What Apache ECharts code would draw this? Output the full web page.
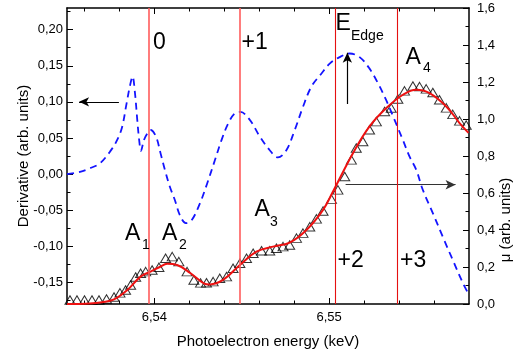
<!DOCTYPE html>
<html>
<head>
<meta charset="utf-8">
<script src="https://cdn.jsdelivr.net/npm/echarts@6/dist/echarts.min.js"></script>
<style>
html,body{margin:0;padding:0;background:#fff;}
#chart{width:514px;height:356px;}
</style>
</head>
<body>
<div id="chart"></div>
<script>
// Derivative curve (left axis)
const derivEnergy = [6.53500,6.53574,6.53631,6.53689,6.53746,6.53780,6.53813,6.53841,6.53860,6.53875,6.53889,6.53902,6.53913,6.53923,6.53940,6.53959,6.53978,6.54009,6.54035,6.54060,6.54089,6.54117,6.54146,6.54180,6.54213,6.54260,6.54302,6.54346,6.54384,6.54422,6.54460,6.54493,6.54546,6.54603,6.54660,6.54707,6.54755,6.54803,6.54850,6.54898,6.54955,6.55003,6.55060,6.55117,6.55174,6.55231,6.55279,6.55327,6.55374,6.55422,6.55460,6.55498,6.55536,6.55593,6.55650,6.55707,6.55765,6.55797];
const derivValues = [0.000,0.003,0.008,0.015,0.031,0.044,0.063,0.098,0.122,0.135,0.112,0.075,0.047,0.032,0.047,0.056,0.061,0.052,0.029,0.006,-0.018,-0.036,-0.057,-0.068,-0.064,-0.041,-0.013,0.019,0.047,0.070,0.084,0.086,0.075,0.052,0.033,0.023,0.033,0.061,0.093,0.121,0.139,0.153,0.162,0.167,0.162,0.146,0.126,0.102,0.075,0.047,0.024,0.006,-0.022,-0.054,-0.087,-0.119,-0.151,-0.166];

// Measured absorption mu (right axis, triangles)
const muEnergy = [6.53517,6.53557,6.53600,6.53643,6.53683,6.53726,6.53769,6.53803,6.53835,6.53864,6.53893,6.53921,6.53950,6.53987,6.54026,6.54064,6.54102,6.54140,6.54187,6.54226,6.54264,6.54298,6.54336,6.54374,6.54413,6.54450,6.54489,6.54527,6.54565,6.54613,6.54660,6.54698,6.54736,6.54774,6.54813,6.54850,6.54889,6.54927,6.54965,6.55013,6.55050,6.55089,6.55127,6.55155,6.55193,6.55231,6.55270,6.55317,6.55355,6.55393,6.55431,6.55479,6.55517,6.55555,6.55593,6.55631,6.55670,6.55707,6.55746,6.55784];
const muValues = [0.022,0.022,0.022,0.022,0.022,0.027,0.038,0.060,0.076,0.103,0.146,0.166,0.175,0.184,0.199,0.247,0.256,0.229,0.175,0.130,0.114,0.115,0.121,0.139,0.148,0.193,0.220,0.247,0.274,0.288,0.288,0.301,0.310,0.319,0.356,0.383,0.418,0.460,0.503,0.567,0.617,0.689,0.779,0.843,0.878,0.942,0.986,1.041,1.059,1.108,1.152,1.178,1.175,1.163,1.143,1.104,1.060,1.025,0.990,0.967];

// Fit curve (right axis, red)
const fitEnergy = [6.53500,6.53631,6.53700,6.53769,6.53845,6.53921,6.53978,6.54031,6.54073,6.54130,6.54207,6.54283,6.54317,6.54393,6.54489,6.54584,6.54679,6.54774,6.54870,6.54965,6.55022,6.55136,6.55231,6.55327,6.55422,6.55498,6.55574,6.55670,6.55746,6.55797];
const fitValues = [0.000,0.003,0.010,0.025,0.076,0.148,0.175,0.200,0.217,0.211,0.166,0.112,0.106,0.130,0.211,0.283,0.310,0.332,0.400,0.509,0.608,0.815,0.960,1.059,1.131,1.158,1.140,1.068,0.978,0.925];

// Oxidation-state edge positions
const edgeEnergies = [6.53967, 6.54489, 6.55033, 6.55387];
const edgeLabels = ['0', '+1', '+2', '+3'];

// Arrows (energy, derivative) start -> end
const arrowStarts = [[6.53797, 0.10], [6.55094, -0.0148], [6.55104, 0.097]];
const arrowEnds = [[6.53569, 0.10], [6.55723, -0.0148], [6.55104, 0.168]];

// Tick values
const xMajorTicks = [6.54, 6.55];
const xMinorTicks = [6.536, 6.538, 6.542, 6.544, 6.546, 6.548, 6.552, 6.554, 6.556];
const leftMajorTicks = [-0.15, -0.10, -0.05, 0.00, 0.05, 0.10, 0.15, 0.20];
const leftMinorTicks = [-0.175, -0.125, -0.075, -0.025, 0.025, 0.075, 0.125, 0.175, 0.225];

const FONT = '"Liberation Sans", Arial, sans-serif';
const comma = d => v => v.toFixed(d).replace('.', ',');

const chart = echarts.init(document.getElementById('chart'), null, {renderer: 'canvas'});

const xMin = 6.535, xMax = 6.558;
const yMin = -0.18, yMax = 0.23;

const axisLine = {show: true, onZero: false, lineStyle: {color: '#000', width: 1.5}};
const noLine = {show: false, onZero: false};

const option = {
  animation: false,
  backgroundColor: '#fff',
  grid: {left: 67, right: 45, top: 8, bottom: 52, containLabel: false},
  xAxis: [
    {type: 'value', position: 'bottom', min: xMin, max: xMax,
     axisLine: axisLine,
     axisTick: {show: true, inside: true, length: 6, customValues: xMajorTicks, lineStyle: {color: '#000', width: 1}},
     axisLabel: {show: true, customValues: xMajorTicks, formatter: comma(2), margin: 7, color: '#000', fontSize: 13, fontFamily: FONT},
     splitLine: {show: false}},
    {type: 'value', position: 'bottom', min: xMin, max: xMax,
     axisLine: noLine,
     axisTick: {show: true, inside: true, length: 3.5, customValues: xMinorTicks, lineStyle: {color: '#000', width: 1}},
     axisLabel: {show: false}, splitLine: {show: false}},
    {type: 'value', position: 'top', min: xMin, max: xMax,
     axisLine: axisLine,
     axisTick: {show: true, inside: true, length: 6, customValues: xMajorTicks, lineStyle: {color: '#000', width: 1}},
     axisLabel: {show: false}, splitLine: {show: false}},
    {type: 'value', position: 'top', min: xMin, max: xMax,
     axisLine: noLine,
     axisTick: {show: true, inside: true, length: 3.5, customValues: xMinorTicks, lineStyle: {color: '#000', width: 1}},
     axisLabel: {show: false}, splitLine: {show: false}}
  ],
  yAxis: [
    {type: 'value', position: 'left', min: yMin, max: yMax,
     axisLine: axisLine,
     axisTick: {show: true, inside: true, length: 6, customValues: leftMajorTicks, lineStyle: {color: '#000', width: 1}},
     axisLabel: {show: true, customValues: leftMajorTicks, formatter: comma(2), margin: 4, color: '#000', fontSize: 13, fontFamily: FONT},
     splitLine: {show: false}},
    {type: 'value', position: 'left', min: yMin, max: yMax,
     axisLine: noLine,
     axisTick: {show: true, inside: true, length: 3.5, customValues: leftMinorTicks, lineStyle: {color: '#000', width: 1}},
     axisLabel: {show: false}, splitLine: {show: false}},
    {type: 'value', position: 'right', min: 0, max: 1.6, interval: 0.2,
     axisLine: axisLine,
     axisTick: {show: true, inside: true, length: 6, lineStyle: {color: '#000', width: 1}},
     minorTick: {show: true, splitNumber: 2, length: 3.5, lineStyle: {color: '#000', width: 1}},
     axisLabel: {show: true, formatter: comma(1), margin: 8, color: '#000', fontSize: 13, fontFamily: FONT},
     splitLine: {show: false}, minorSplitLine: {show: false}}
  ],
  series: [
    {type: 'line', name: 'Derivative', xAxisIndex: 0, yAxisIndex: 0,
     data: derivEnergy.map((e, i) => [e, derivValues[i]]),
     showSymbol: false, smooth: 0.35,
     lineStyle: {color: '#1414ff', width: 1.8, type: [7, 5]},
     markLine: {silent: true, precision: 6, symbol: ['none', 'arrow'], symbolSize: [7, 10],
       label: {show: false},
       lineStyle: {color: '#000', width: 1.2, type: 'solid'},
       data: arrowStarts.map((s, i) => [
         {coord: s, lineStyle: {color: i === 1 ? '#333' : '#000'}},
         {coord: arrowEnds[i]}
       ])}},
    {type: 'scatter', name: 'mu', xAxisIndex: 0, yAxisIndex: 2,
     data: muEnergy.map((e, i) => [e, muValues[i]]),
     symbol: 'triangle', symbolSize: [10, 8.5],
     itemStyle: {color: 'rgba(0,0,0,0)', borderColor: '#000', borderWidth: 1}},
    {type: 'line', name: 'Fit', xAxisIndex: 0, yAxisIndex: 2,
     data: fitEnergy.map((e, i) => [e, fitValues[i]]),
     showSymbol: false, smooth: 0.4,
     lineStyle: {color: '#ee1111', width: 2},
     markLine: {silent: true, precision: 6, symbol: ['none', 'none'], label: {show: false},
       data: edgeEnergies.map((e, i) => ({xAxis: e,
         lineStyle: {color: i < 2 ? '#ff5c5c' : '#e51010', width: i < 2 ? 1.6 : 1.1, type: 'solid'}}))}}
  ],
  graphic: []
};

chart.setOption(option);

// Text annotations
const big = 23, small = 14;
const texts = [
  {t: edgeLabels[0], x: 153, y: 42.5, s: big},
  {t: edgeLabels[1], x: 241.5, y: 42.5, s: big},
  {t: edgeLabels[2], x: 337.5, y: 260.5, s: big},
  {t: edgeLabels[3], x: 400, y: 260.5, s: big},
  {t: 'E', x: 335.5, y: 23.3, s: big},
  {t: 'Edge', x: 351, y: 36.5, s: small},
  {t: 'A', x: 405.5, y: 58, s: big}, {t: '4', x: 423, y: 68, s: small},
  {t: 'A', x: 125, y: 233.3, s: big}, {t: '1', x: 142, y: 245, s: small},
  {t: 'A', x: 162, y: 233.3, s: big}, {t: '2', x: 179, y: 245, s: small},
  {t: 'A', x: 254.5, y: 210, s: big}, {t: '3', x: 270, y: 221.7, s: small}
];
const graphics = texts.map(o => ({
  type: 'text', silent: true, z: 100,
  style: {text: o.t, x: o.x, y: o.y, fill: '#000', fontSize: o.s, fontFamily: FONT,
          textAlign: 'left', textVerticalAlign: 'middle', verticalAlign: 'middle'}
}));
graphics.push({type: 'text', silent: true, x: 268, y: 341.5,
  style: {text: 'Photoelectron energy (keV)', fill: '#000', fontSize: 15, fontFamily: FONT,
          textAlign: 'center', textVerticalAlign: 'middle', verticalAlign: 'middle'}});
graphics.push({type: 'text', silent: true, x: 24, y: 156, rotation: Math.PI / 2,
  style: {text: 'Derivative (arb. units)', fill: '#000', fontSize: 15, fontFamily: FONT,
          textAlign: 'center', textVerticalAlign: 'middle', verticalAlign: 'middle'}});
graphics.push({type: 'text', silent: true, x: 506, y: 220, rotation: Math.PI / 2,
  style: {text: 'μ (arb. units)', fill: '#000', fontSize: 15, fontFamily: FONT,
          textAlign: 'center', textVerticalAlign: 'middle', verticalAlign: 'middle'}});
chart.setOption({graphic: graphics});
</script>
</body>
</html>
